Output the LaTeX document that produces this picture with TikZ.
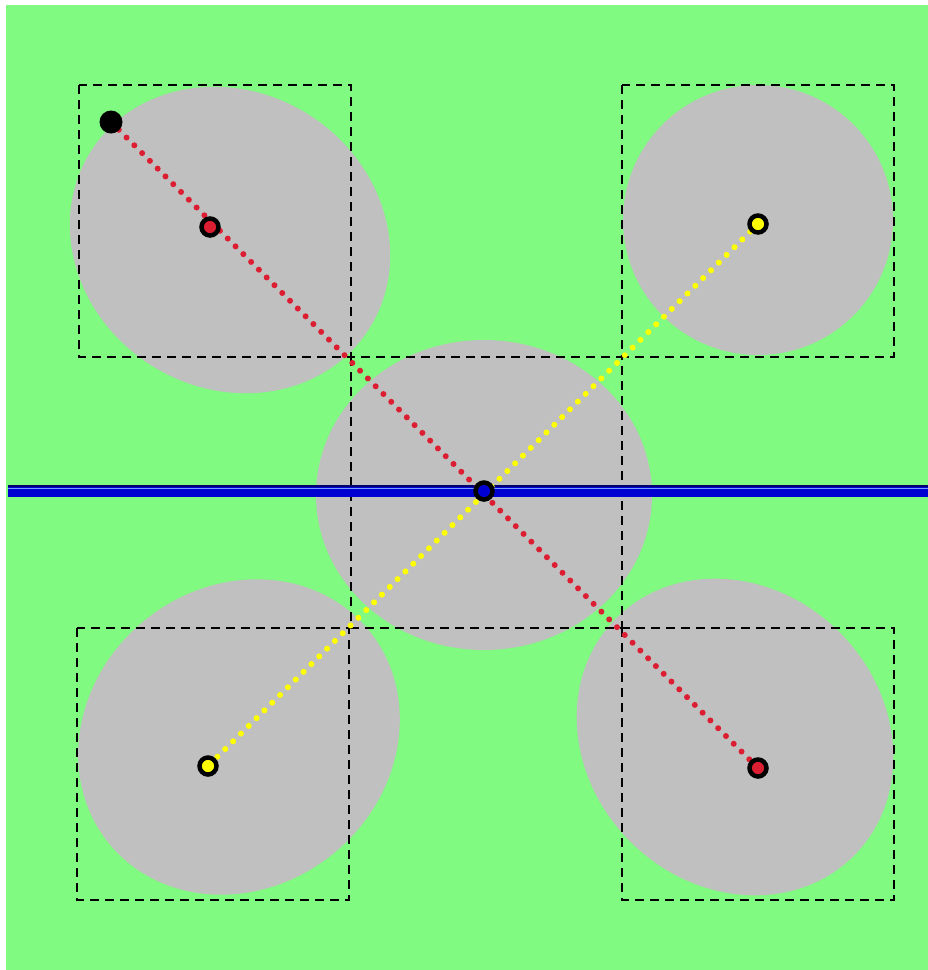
\documentclass[tikz,border=0pt]{standalone}
\usetikzlibrary{calc}
\definecolor{bggreen}{RGB}{128,250,128}
\definecolor{blobgray}{RGB}{192,192,192}
\definecolor{dotred}{RGB}{220,30,50}
\definecolor{dotyellow}{RGB}{255,255,0}
\definecolor{lineblue}{RGB}{0,0,210}
\definecolor{navy}{RGB}{0,0,110}
\definecolor{lightblue}{RGB}{110,160,255}
\tikzset{
  blob/.style={fill=blobgray},
  dashbox/.style={draw=black, line width=1.6pt, dash pattern=on 9pt off 6pt},
  reddots/.style={draw=dotred, line width=6pt, line cap=round, dash pattern=on 0pt off 11pt},
  yellowdots/.style={draw=dotyellow, line width=6pt, line cap=round, dash pattern=on 0pt off 11pt},
  ringdot/.style={circle, draw=black, line width=4.5pt, minimum size=17pt, inner sep=0pt},
  soliddot/.style={circle, fill=black, minimum size=23pt, inner sep=0pt},
}
\begin{document}
\begin{tikzpicture}[x=1pt,y=-1pt]
\useasboundingbox (0,0) rectangle (928,970);
\fill[white] (0,0) rectangle (928,970);
\fill[bggreen] (6,5) rectangle (928,970);
% blobs
\coordinate (btl) at (230,240);
\coordinate (btr) at (758,220);
\coordinate (bc) at (484,495);
\coordinate (bbl) at (239,737);
\coordinate (bbr) at (735,737);
\fill[blob, rotate around={-33:(btl)}] (btl) ellipse (165 and 148);
\fill[blob] (btr) circle (135);
\fill[blob] (bc) ellipse (168 and 155);
\fill[blob, rotate around={40:(bbl)}] (bbl) ellipse (168 and 150);
\fill[blob, rotate around={-45:(bbr)}] (bbr) ellipse (168 and 148);
% dashed boxes
\draw[dashbox] (79,85) rectangle (351,357);
\draw[dashbox] (622,85) rectangle (894,357);
\draw[dashbox] (351,357) rectangle (622,628);
\draw[dashbox] (77,628) rectangle (349,900);
\draw[dashbox] (622,628) rectangle (894,900);
% blue line
\coordinate (bl) at (8,491);
\coordinate (br) at (928,491);
\draw[lineblue, line width=12pt] (bl) -- (br);
\draw[navy, line width=2pt] ($(bl)+(0,-5)$) -- ($(br)+(0,-5)$);
\draw[lightblue, line width=1.2pt] ($(bl)+(0,-2.8)$) -- ($(br)+(0,-2.8)$);
% points
\coordinate (tlo) at (111,122);
\coordinate (tli) at (210,227);
\coordinate (tr) at (758,224);
\coordinate (c) at (484,491);
\coordinate (bli) at (208,766);
\coordinate (bri) at (758,768);
% dotted lines
\draw[reddots] (tlo) -- (bri);
\draw[yellowdots] (tr) -- (bli);
% dots
\node[soliddot] (n1) at (tlo) {};
\node[ringdot, fill=dotred] (n2) at (tli) {};
\node[ringdot, fill=dotyellow] (n3) at (tr) {};
\node[ringdot, fill=lineblue] (n4) at (c) {};
\node[ringdot, fill=dotyellow] (n5) at (bli) {};
\node[ringdot, fill=dotred] (n6) at (bri) {};
\end{tikzpicture}
\end{document}
